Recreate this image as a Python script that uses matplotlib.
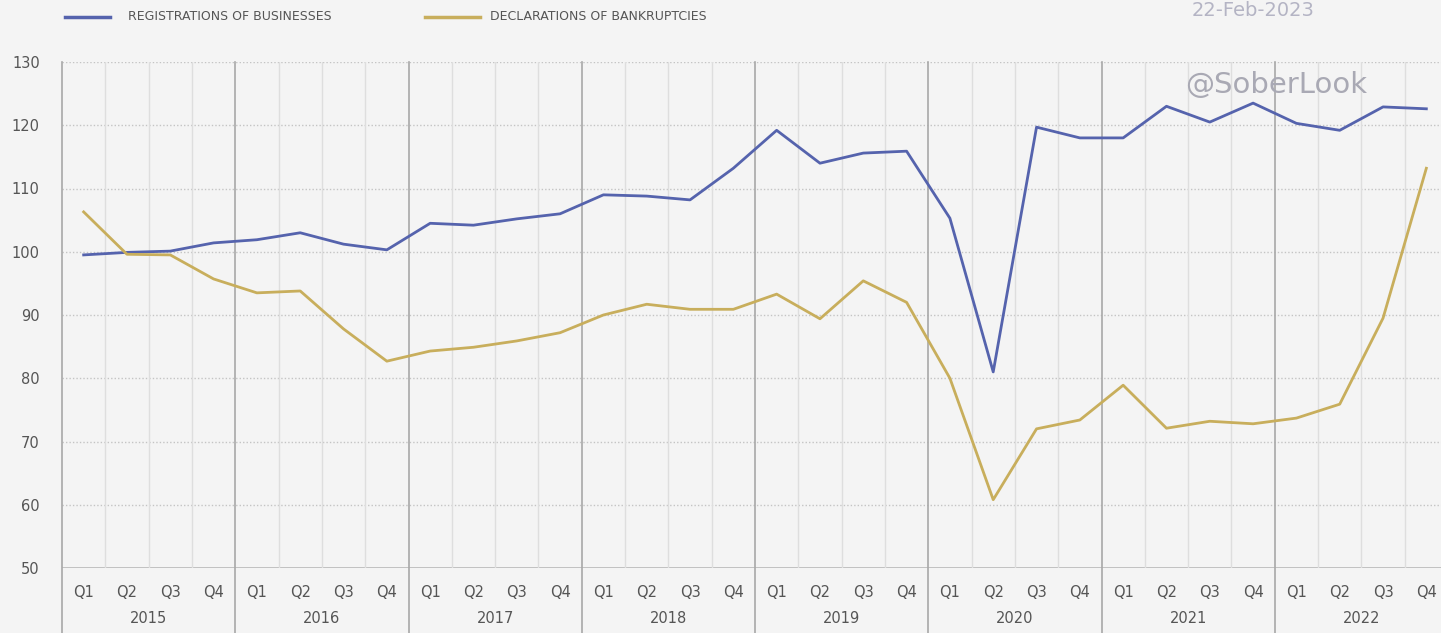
import matplotlib.pyplot as plt
import numpy as np

years = ["2015", "2016", "2017", "2018", "2019", "2020", "2021", "2022"]
quarters = ["Q1", "Q2", "Q3", "Q4"]

registrations = [99.5, 99.9, 100.1, 101.4,
                 101.9, 103.0, 101.2, 100.3,
                 104.5, 104.2, 105.2, 106.0,
                 109.0, 108.8, 108.2, 113.2,
                 119.2, 114.0, 115.6, 115.9,
                 105.3, 81.0, 119.7, 118.0,
                 118.0, 123.0, 120.5, 123.5,
                 120.3, 119.2, 122.9, 122.6]
bankruptcies = [106.3, 99.6, 99.5, 95.7,
                93.5, 93.8, 87.8, 82.7,
                84.3, 84.9, 85.9, 87.2,
                90.0, 91.7, 90.9, 90.9,
                93.3, 89.4, 95.4, 92.0,
                80.0, 60.8, 72.0, 73.4,
                78.9, 72.1, 73.2, 72.8,
                73.7, 75.9, 89.5, 113.2]

BG = "#f4f4f4"
BLUE = "#5563ad"
GOLD = "#c8ae5c"
TXT = "#555555"

W, H = 1441, 633
fig = plt.figure(figsize=(W / 100, H / 100), dpi=100, facecolor=BG)
ax = fig.add_axes([62 / W, (H - 568) / H, (1448 - 62) / W, (568 - 62) / H])
ax.set_facecolor(BG)

n = len(registrations)
x = np.arange(n)
ax.set_xlim(-0.5, n - 0.5)
ax.set_ylim(50, 130)

# grid: dotted horizontals, light quarter dividers, darker year dividers
for v in range(60, 131, 10):
    ax.axhline(v, color="#c4c4c4", lw=1.0, ls=(0, (1, 1.5)), zorder=1)
ax.axhline(50, color="#bdbdbd", lw=2.0, zorder=1)
for k in range(n - 1):
    if (k + 1) % 4:
        ax.axvline(k + 0.5, color="#dedede", lw=1.0, zorder=1)
for k in range(len(years) + 1):
    ax.axvline(4 * k - 0.5, ymin=-0.13, ymax=1, color="#a8a8a8", lw=1.2,
               zorder=1, clip_on=False)

ax.plot(x, registrations, color=BLUE, lw=2.0, zorder=3)
ax.plot(x, bankruptcies, color=GOLD, lw=2.0, zorder=3)

for s in ax.spines.values():
    s.set_visible(False)
ax.set_yticks(range(50, 131, 10))
ax.set_xticks(x)
ax.set_xticklabels(quarters * len(years))
ax.tick_params(length=0, colors=TXT, labelsize=10.5)
ax.tick_params(axis="x", pad=12)
ax.tick_params(axis="y", pad=16)

for i, yr in enumerate(years):
    ax.text(4 * i + 1.5, -0.1, yr, transform=ax.get_xaxis_transform(),
            ha="center", va="center", fontsize=10.5, color=TXT)

# legend drawn as lines and labels above the axes
fig.add_artist(plt.Line2D([65 / W, 110 / W], [1 - 17 / H] * 2, color=BLUE, lw=2.5))
fig.text(128 / W, 1 - 17 / H, "REGISTRATIONS OF BUSINESSES", fontsize=9,
         color=TXT, va="center")
fig.add_artist(plt.Line2D([425 / W, 480 / W], [1 - 17 / H] * 2, color=GOLD, lw=2.5))
fig.text(490 / W, 1 - 17 / H, "DECLARATIONS OF BANKRUPTCIES", fontsize=9,
         color=TXT, va="center")

fig.text(1253 / W, 1 - 10 / H, "22-Feb-2023", fontsize=14, color="#b4b4c4",
         ha="center", va="center")
fig.text(1276 / W, 1 - 85 / H, "@SoberLook", fontsize=21, color="#a9a9b4",
         ha="center", va="center")

fig.savefig("out.png", dpi=100, facecolor=BG)
